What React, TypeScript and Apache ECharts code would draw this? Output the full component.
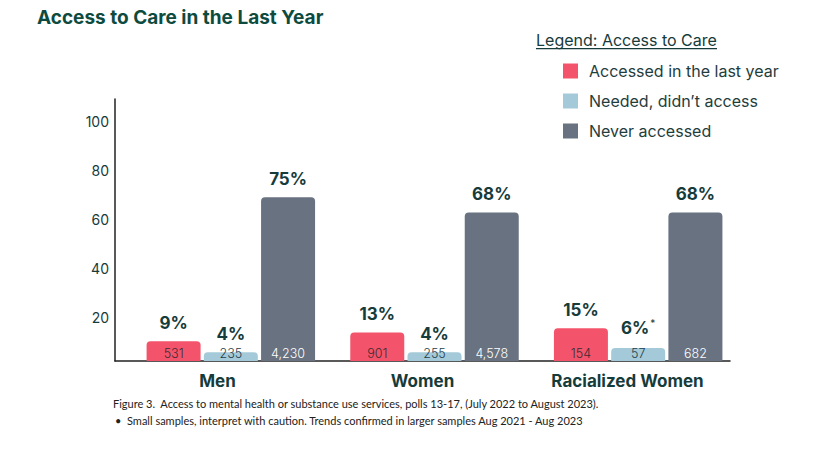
import React, { useEffect, useRef } from 'react';
import * as echarts from 'echarts';

const categories = ['Men', 'Women', 'Racialized Women'];
const seriesNames = ['Accessed in the last year', 'Needed, didn’t access', 'Never accessed'];
const accessed = [9, 13, 15];
const neededNoAccess = [4, 4, 6];
const neverAccessed = [75, 68, 68];
const accessedN = [531, 901, 154];
const neededN = [235, 255, 57];
const neverN = [4230, 4578, 682];
const accessedCaution = [false, false, false];
const neededCaution = [false, false, true];
const neverCaution = [false, false, false];
const yTickLabels = [20, 40, 60, 80, 100];

const FONT = 'Inter';
const NOTE_FONT = 'Lato';
const DARK = '#163b3b';
const COLORS = ['#f4546b', '#a4cad9', '#687280'];
const COUNT_COLORS = ['#3b2a30', '#23404c', '#ffffff'];

export default function App() {
  const ref = useRef<HTMLDivElement>(null);
  useEffect(() => {
    const chart = echarts.init(ref.current!, null, { renderer: 'svg' });
    const values = [accessed, neededNoAccess, neverAccessed];
    const counts = [accessedN, neededN, neverN];
    const cautions = [accessedCaution, neededCaution, neverCaution];
    const series: any[] = [];
    values.forEach((vals, i) => {
      series.push({
        name: seriesNames[i],
        type: 'bar',
        xAxisIndex: 0,
        yAxisIndex: 0,
        barWidth: 54,
        barGap: '6%',
        itemStyle: { color: COLORS[i], borderRadius: [4, 4, 0, 0] },
        data: vals,
        label: {
          show: true,
          position: 'insideBottom',
          distance: 1,
          fontFamily: FONT,
          fontSize: 12.5,
          fontWeight: 300,
          color: COUNT_COLORS[i],
          formatter: (p: any) => counts[i][p.dataIndex].toLocaleString('en-US'),
        },
      });
    });
    values.forEach((vals, i) => {
      series.push({
        name: 'pct' + i,
        type: 'bar',
        xAxisIndex: 1,
        yAxisIndex: 0,
        barWidth: 54,
        barGap: '6%',
        silent: true,
        itemStyle: { color: 'transparent' },
        data: vals,
        label: {
          show: true,
          position: 'top',
          distance: 10,
          formatter: (p: any) =>
            cautions[i][p.dataIndex] ? `{a|${p.value}%}{s|*}` : `{a|${p.value}%}`,
          rich: {
            a: { fontFamily: FONT, fontSize: 17, fontWeight: 700, color: DARK },
            s: { fontFamily: FONT, fontSize: 10, color: DARK, padding: [0, 0, 10, 1] },
          },
        },
      });
    });

    chart.setOption({
      animation: false,
      grid: [
        { left: 129, right: 90, top: 99, bottom: 96 },
        { left: 115, right: 100, top: 99, bottom: 96 },
        { left: 115, right: 100, top: 97, bottom: 90.4 },
      ],
      xAxis: [
        { type: 'category', gridIndex: 0, data: categories, show: false },
        { type: 'category', gridIndex: 0, data: categories, show: false },
        {
          type: 'category',
          gridIndex: 1,
          data: categories,
          axisLine: { show: true, lineStyle: { color: '#222', width: 1.5 } },
          axisTick: { show: false },
          axisLabel: { fontFamily: FONT, fontSize: 17, fontWeight: 700, color: DARK, margin: 11 },
        },
        { type: 'value', gridIndex: 2, min: 0, max: 1, show: false },
      ],
      yAxis: [
        { type: 'value', gridIndex: 0, min: 0, max: 120, show: false },
        {
          type: 'value',
          gridIndex: 1,
          min: 0,
          max: 1,
          axisLine: { show: true, lineStyle: { color: '#222', width: 1.5 } },
          axisTick: { show: false },
          axisLabel: { show: false },
          splitLine: { show: false },
        },
        {
          type: 'value',
          gridIndex: 2,
          min: 0,
          max: 110,
          interval: 20,
          axisLine: { show: false },
          axisTick: { show: false },
          splitLine: { show: false },
          axisLabel: {
            fontFamily: FONT,
            fontSize: 14,
            color: DARK,
            margin: 6,
            formatter: (v: number) => (yTickLabels.includes(v) ? String(v) : ''),
          },
        },
      ],
      legend: {
        data: seriesNames,
        orient: 'vertical',
        left: 558,
        top: 58,
        itemWidth: 15,
        itemHeight: 15,
        itemGap: 14,
        icon: 'rect',
        selectedMode: false,
        textStyle: { fontFamily: FONT, fontSize: 16, color: '#1f3d3d', padding: [0, 0, 0, 6] },
      },
      graphic: [
        {
          type: 'text',
          left: 37,
          top: 8,
          style: { text: 'Access to Care in the Last Year', fontFamily: FONT, fontSize: 19, fontWeight: 700, fill: '#0d4b40' },
        },
        {
          type: 'text',
          left: 536,
          top: 32,
          style: { text: 'Legend: Access to Care', fontFamily: FONT, fontSize: 16, fill: DARK },
        },
        { type: 'rect', left: 536, top: 48, shape: { width: 181, height: 1.2 }, style: { fill: DARK } },
        {
          type: 'text',
          left: 113,
          top: 398,
          style: {
            text: 'Figure 3.  Access to mental health or substance use services, polls 13-17, (July 2022 to August 2023).',
            fontFamily: NOTE_FONT,
            fontSize: 11,
            fill: '#222',
          },
        },
        {
          type: 'text',
          left: 115,
          top: 415,
          style: {
            text: '•  Small samples, interpret with caution. Trends confirmed in larger samples Aug 2021 - Aug 2023',
            fontFamily: NOTE_FONT,
            fontSize: 11,
            fill: '#222',
          },
        },
      ],
      series,
    });
    return () => chart.dispose();
  }, []);
  return <div ref={ref} style={{ position: 'absolute', left: 0, top: 0, width: 830, height: 457 }} />;
}
